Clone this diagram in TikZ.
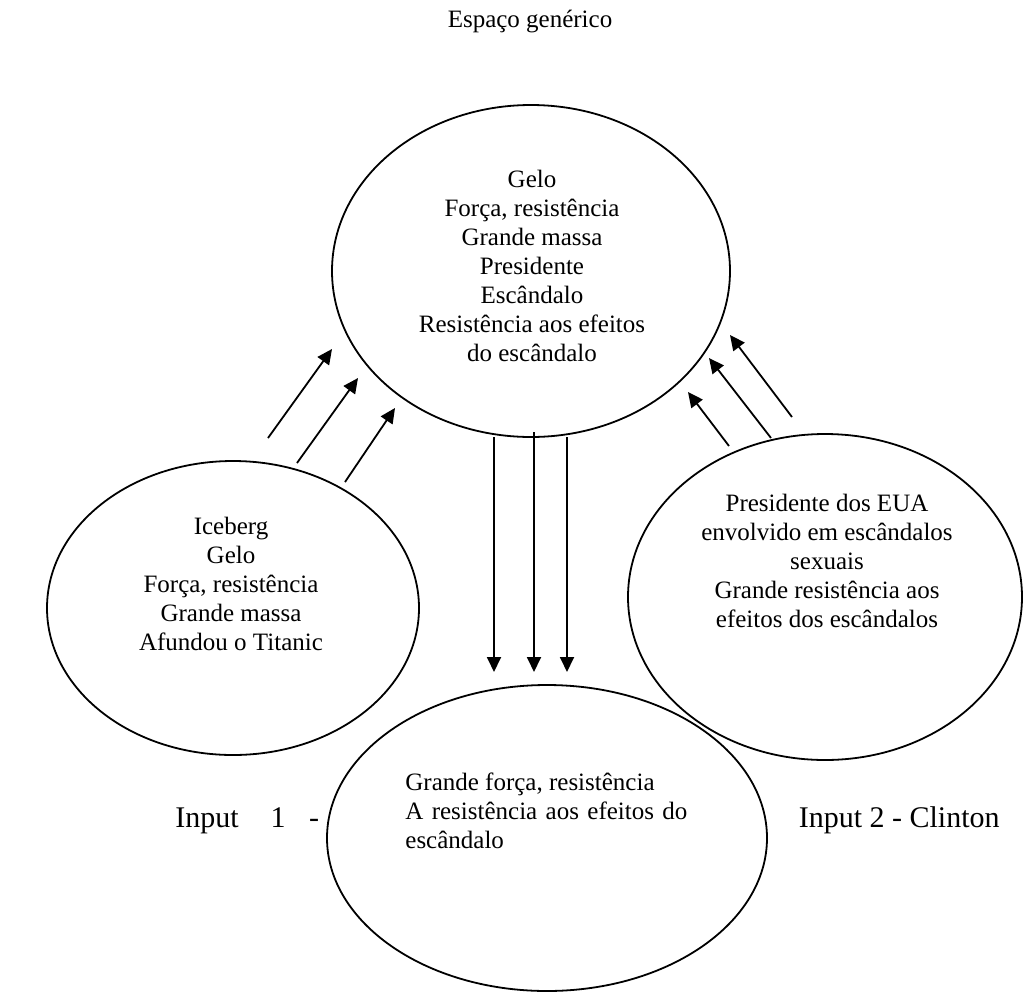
\documentclass[tikz,border=0pt]{standalone}
\usepackage{fontspec}
\setmainfont{Liberation Serif}
\usetikzlibrary{shapes.geometric,arrows.meta}
\begin{document}
\begin{tikzpicture}[x=0.5pt,y=-0.5pt,
  bubble/.style={draw,ellipse,line width=0.9pt,inner sep=0pt},
  txt/.style={font=\fontsize{12.5pt}{14.5pt}\selectfont,align=center,inner sep=0pt},
  big/.style={font=\fontsize{15pt}{18pt}\selectfont,inner sep=0pt},
  flow/.style={line width=0.9pt,-{Triangle[length=7.5pt,width=7pt]}}]
\useasboundingbox (0,0) rectangle (1023,991);

% title
\node[txt] (title) at (530,22) {Espaço genérico};

% the four mental spaces
\node[bubble,minimum width=199pt,minimum height=166pt] (generic) at (531,271) {};
\node[bubble,minimum width=186pt,minimum height=147pt] (iceberg) at (233,608) {};
\node[bubble,minimum width=197pt,minimum height=163pt] (clinton) at (825,597) {};
\node[bubble,minimum width=220pt,minimum height=153pt] (blend) at (547,838) {};

% contents
\node[txt] (genericText) at (532,266) {Gelo\\Força, resistência\\Grande massa\\Presidente\\Escândalo\\Resistência aos efeitos\\do escândalo};
\node[txt] (icebergText) at (231,584) {Iceberg\\Gelo\\Força, resistência\\Grande massa\\Afundou o Titanic};
\node[txt] (clintonText) at (827,561) {Presidente dos EUA\\envolvido em escândalos\\sexuais\\Grande resistência aos\\efeitos dos escândalos};
\node[txt,align=left,anchor=west] (blendText) at (405,811) {Grande força, resistência\\\makebox[141pt][s]{A resistência aos efeitos do}\\escândalo};

% input labels
\node[big,anchor=base west] (inA) at (175,827) {Input};
\node[big,anchor=base] (inB) at (278,827) {1};
\node[big,anchor=base] (inC) at (314,827) {-};
\node[big,anchor=base east] (inD) at (1000,827) {Input 2 - Clinton};

% arrow end points
\coordinate (l1s) at (268,438); \coordinate (l1e) at (332,349);
\coordinate (l2s) at (297,463); \coordinate (l2e) at (358,378);
\coordinate (l3s) at (345,482); \coordinate (l3e) at (395,408);
\coordinate (r1s) at (792,417); \coordinate (r1e) at (730,335);
\coordinate (r2s) at (771,438); \coordinate (r2e) at (709,358);
\coordinate (r3s) at (729,446); \coordinate (r3e) at (688,392);
\coordinate (d1s) at (494,437); \coordinate (d1e) at (494,672);
\coordinate (d2s) at (534,432); \coordinate (d2e) at (534,672);
\coordinate (d3s) at (567,437); \coordinate (d3e) at (567,672);

\draw[flow] (l1s) -- (l1e);
\draw[flow] (l2s) -- (l2e);
\draw[flow] (l3s) -- (l3e);
\draw[flow] (r1s) -- (r1e);
\draw[flow] (r2s) -- (r2e);
\draw[flow] (r3s) -- (r3e);
\draw[flow] (d1s) -- (d1e);
\draw[flow] (d2s) -- (d2e);
\draw[flow] (d3s) -- (d3e);
\end{tikzpicture}
\end{document}
